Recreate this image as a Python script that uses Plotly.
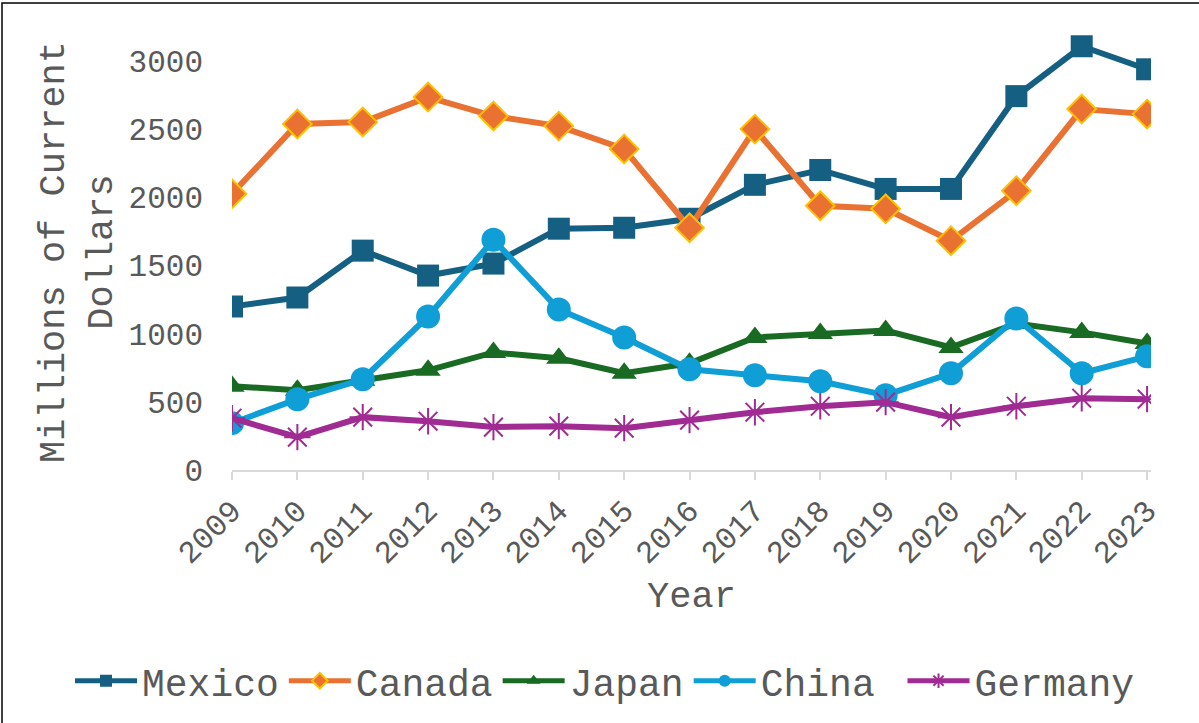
import plotly.graph_objects as go

years = [str(y) for y in range(2009, 2024)]
mexico = [1200, 1266, 1610, 1427, 1515, 1771, 1778, 1844, 2093, 2202, 2063, 2063, 2744, 3110, 2941]
canada = [2027, 2539, 2554, 2737, 2598, 2524, 2356, 1778, 2502, 1939, 1917, 1683, 2049, 2649, 2612]
japan = [615, 585, 659, 732, 863, 820, 710, 783, 973, 1002, 1024, 900, 1075, 1010, 929]
china = [344, 520, 666, 1127, 1690, 1178, 973, 739, 695, 651, 549, 710, 1112, 710, 834]
germany = [380, 241, 388, 358, 315, 322, 307, 366, 424, 468, 498, 388, 468, 527, 520]

FONT = "Courier New, Liberation Mono, monospace"
GRAY = "#595959"

fig = go.Figure()
fig.add_trace(go.Scatter(x=years, y=mexico, name="Mexico", mode="lines+markers",
                         line=dict(color="#156082", width=6),
                         marker=dict(symbol="square", size=22, color="#156082")))
fig.add_trace(go.Scatter(x=years, y=canada, name="Canada", mode="lines+markers",
                         line=dict(color="#E97132", width=6),
                         marker=dict(symbol="diamond", size=22, color="#E97132",
                                     line=dict(color="#FFC000", width=2))))
fig.add_trace(go.Scatter(x=years, y=japan, name="Japan", mode="lines+markers",
                         line=dict(color="#196B24", width=6),
                         marker=dict(symbol="triangle-up", size=22, color="#196B24")))
fig.add_trace(go.Scatter(x=years, y=china, name="China ", mode="lines+markers",
                         line=dict(color="#0F9ED5", width=6),
                         marker=dict(symbol="circle", size=24, color="#0F9ED5")))
fig.add_trace(go.Scatter(x=years, y=germany, name="Germany", mode="lines+markers",
                         line=dict(color="#A02B93", width=6),
                         marker=dict(symbol="asterisk-open", size=22,
                                     line=dict(color="#A02B93", width=2))))

W, H = 1199, 723
L, R, T, B = 232, 48, 34, 252
pw, ph = W - L - R, H - T - B

fig.update_layout(
    width=W, height=H,
    margin=dict(l=L, r=R, t=T, b=B),
    paper_bgcolor="white", plot_bgcolor="white",
    font=dict(family=FONT, color=GRAY),
    showlegend=True,
    legend=dict(orientation="h", x=(70 - L) / pw, xanchor="left", y=(H - 681 - B) / ph,
                yanchor="middle", font=dict(size=38, family=FONT, color=GRAY),
                itemsizing="constant", traceorder="normal", itemwidth=62),
    xaxis=dict(type="category", range=[0, 14.06], showgrid=False,
               showline=True, linecolor="#D9D9D9", linewidth=2,
               ticks="outside", ticklen=8, tickcolor="#D9D9D9", tickwidth=2,
               tickangle=-45, tickfont=dict(size=31, family=FONT, color=GRAY),
               title=dict(text="Year", font=dict(size=37, family=FONT, color=GRAY),
                          standoff=10),
               zeroline=False),
    yaxis=dict(range=[0, 3200], tickvals=[0, 500, 1000, 1500, 2000, 2500, 3000],
               showgrid=False, showline=False, zeroline=False,
               tickfont=dict(size=31, family=FONT, color=GRAY),
               ticklabelstandoff=28,
               title=dict(text="Millions of Current<br>Dollars",
                          font=dict(size=37, family=FONT, color=GRAY), standoff=4)),
)

fig.add_shape(type="rect", xref="paper", yref="paper",
              x0=(2 - L) / pw, x1=(W + 10 - L) / pw,
              y0=-(B + 10) / ph, y1=1 + (T - 3) / ph,
              line=dict(color="black", width=1.5), fillcolor="rgba(0,0,0,0)", layer="below")

fig.write_html("out.html", config={"displayModeBar": False},
               post_script="document.body.style.margin='0';document.body.style.overflow='hidden';")
